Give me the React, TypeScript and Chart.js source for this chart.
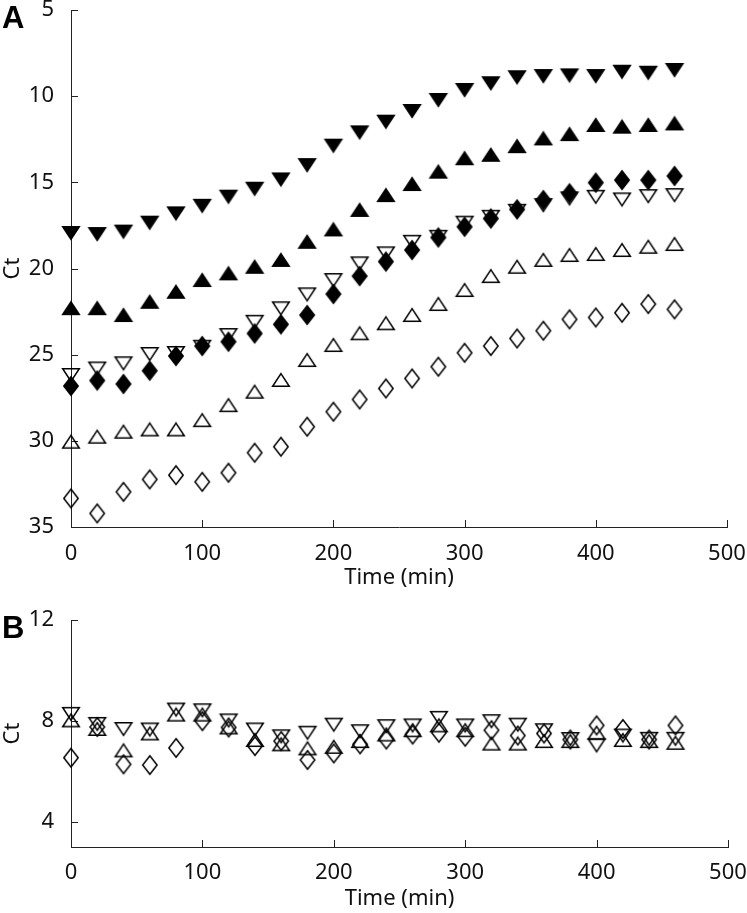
import React, { useEffect, useRef } from 'react';
import { Chart, registerables } from 'chart.js';

Chart.register(...registerables);

// ---------- data ----------
const TIME = [0, 20, 40, 60, 80, 100, 120, 140, 160, 180, 200, 220, 240, 260, 280, 300, 320, 340, 360, 380, 400, 420, 440, 460];
const X_TICKS = [0, 100, 200, 300, 400, 500];
const A_Y_TICKS = [5, 10, 15, 20, 25, 30, 35];
const B_Y_TICKS = [4, 8, 12];

// Panel A
const A_FILLED_DOWN = [17.94, 18.0, 17.86, 17.34, 16.8, 16.36, 15.83, 15.37, 14.83, 14.0, 12.87, 12.1, 11.48, 10.86, 10.22, 9.64, 9.25, 8.9, 8.83, 8.79, 8.83, 8.58, 8.64, 8.48];
const A_FILLED_UP = [22.3, 22.3, 22.7, 21.93, 21.35, 20.67, 20.28, 19.9, 19.5, 18.45, 17.73, 16.6, 15.74, 15.1, 14.38, 13.6, 13.4, 12.9, 12.45, 12.2, 11.67, 11.77, 11.67, 11.58];
const A_FILLED_DIAMOND = [26.82, 26.5, 26.7, 25.93, 25.08, 24.5, 24.25, 23.77, 23.24, 22.7, 21.48, 20.44, 19.6, 18.93, 18.2, 17.58, 17.1, 16.57, 16.03, 15.64, 15.02, 14.87, 14.87, 14.63];
const A_OPEN_DOWN = [26.18, 25.8, 25.5, 24.96, 24.9, 24.54, 23.86, 23.09, 22.31, 21.5, 20.67, 19.7, 19.12, 18.45, 18.16, 17.34, 17.0, 16.65, 16.32, 15.93, 15.84, 15.99, 15.8, 15.74];
const A_OPEN_UP = [30.05, 29.76, 29.47, 29.34, 29.34, 28.8, 27.93, 27.15, 26.47, 25.31, 24.44, 23.76, 23.18, 22.7, 22.06, 21.25, 20.44, 19.9, 19.5, 19.22, 19.16, 18.93, 18.74, 18.58];
const A_OPEN_DIAMOND = [33.34, 34.21, 32.96, 32.24, 31.99, 32.38, 31.85, 30.69, 30.34, 29.18, 28.31, 27.6, 26.96, 26.38, 25.7, 24.89, 24.5, 24.06, 23.61, 22.95, 22.84, 22.57, 22.06, 22.37];

// Panel B
const B_OPEN_DOWN = [8.28, 7.88, 7.68, 7.66, 8.45, 8.42, 8.02, 7.66, 7.39, 7.53, 7.85, 7.59, 7.79, 7.82, 8.12, 7.82, 7.99, 7.85, 7.63, 7.28, 7.03, 7.42, 7.29, 7.29];
const B_OPEN_UP = [8.02, 7.68, 6.83, 7.5, 8.25, 8.25, 7.74, 7.24, 7.07, 6.91, 6.97, 7.2, 7.46, 7.63, 7.82, 7.63, 7.1, 7.1, 7.2, 7.2, 7.53, 7.24, 7.2, 7.13];
const B_OPEN_DIAMOND = [6.54, 7.76, 6.28, 6.25, 6.93, 7.99, 7.74, 7.0, 7.2, 6.45, 6.71, 7.07, 7.26, 7.46, 7.53, 7.37, 7.63, 7.42, 7.5, 7.26, 7.82, 7.68, 7.26, 7.82];

// ---------- helpers ----------
const FONT_FAMILY = "'Noto Sans', 'Open Sans', sans-serif";
const FONT_SIZE = 22;
const TEXT_COLOR = '#111';
const AXIS_COLOR = '#222';

type Shape = 'up' | 'down' | 'diamond';

function makeMarker(shape: Shape, filled: boolean): HTMLCanvasElement {
  const c = document.createElement('canvas');
  c.width = 24;
  c.height = 24;
  const ctx = c.getContext('2d')!;
  ctx.translate(12, 12);
  ctx.beginPath();
  if (shape === 'up') {
    ctx.moveTo(0, -6.3);
    ctx.lineTo(8.3, 6.3);
    ctx.lineTo(-8.3, 6.3);
  } else if (shape === 'down') {
    ctx.moveTo(0, 6.3);
    ctx.lineTo(8.3, -6.3);
    ctx.lineTo(-8.3, -6.3);
  } else {
    ctx.moveTo(0, -9.2);
    ctx.lineTo(7.2, 0);
    ctx.lineTo(0, 9.2);
    ctx.lineTo(-7.2, 0);
  }
  ctx.closePath();
  ctx.lineJoin = 'miter';
  if (filled) {
    ctx.fillStyle = '#000';
    ctx.fill();
  }
  ctx.lineWidth = 1.5;
  ctx.strokeStyle = '#000';
  ctx.stroke();
  return c;
}

function series(values: number[], marker: HTMLCanvasElement) {
  return {
    data: TIME.map((t, i) => ({ x: t, y: values[i] })),
    pointStyle: marker,
    pointRadius: 9,
    pointHoverRadius: 9,
    showLine: false,
    clip: false as const,
  };
}

const innerTicks = {
  id: 'innerTicks',
  beforeDatasetsDraw(chart: any) {
    const { ctx, chartArea } = chart;
    const x = chart.scales.x;
    const y = chart.scales.y;
    ctx.save();
    ctx.strokeStyle = AXIS_COLOR;
    ctx.lineWidth = 1;
    ctx.beginPath();
    for (const t of x.ticks) {
      const px = Math.round(x.getPixelForValue(t.value)) + 0.5;
      ctx.moveTo(px, chartArea.bottom);
      ctx.lineTo(px, chartArea.bottom - 7);
    }
    for (const t of y.ticks) {
      const py = Math.round(y.getPixelForValue(t.value)) + 0.5;
      ctx.moveTo(chartArea.left, py);
      ctx.lineTo(chartArea.left + 7, py);
    }
    ctx.stroke();
    ctx.restore();
  },
};

interface PanelCfg {
  yMin: number;
  yMax: number;
  yTicks: number[];
  reverse: boolean;
  padTop: number;
  padRight: number;
  xAxisHeight: number;
  xTickPad: number;
  xTitlePad: number;
}

function panelOptions(p: PanelCfg): any {
  const font = { family: FONT_FAMILY, size: FONT_SIZE };
  return {
    animation: false,
    responsive: false,
    events: [],
    layout: { padding: { top: p.padTop, right: p.padRight, left: 0, bottom: 0 } },
    plugins: { legend: { display: false }, tooltip: { enabled: false } },
    scales: {
      x: {
        type: 'linear',
        min: 0,
        max: 500,
        afterBuildTicks: (s: any) => {
          s.ticks = X_TICKS.map((v) => ({ value: v }));
        },
        afterFit: (s: any) => {
          s.height = p.xAxisHeight;
          s.paddingLeft = 0;
          s.paddingRight = 0;
        },
        grid: { display: false },
        border: { display: true, color: AXIS_COLOR, width: 1 },
        ticks: { font, color: TEXT_COLOR, padding: p.xTickPad, maxRotation: 0, autoSkip: false },
        title: {
          display: true,
          text: 'Time (min)',
          font,
          color: TEXT_COLOR,
          padding: { top: p.xTitlePad, bottom: p.xTitlePad },
        },
      },
      y: {
        type: 'linear',
        min: p.yMin,
        max: p.yMax,
        reverse: p.reverse,
        afterBuildTicks: (s: any) => {
          s.ticks = p.yTicks.map((v) => ({ value: v }));
        },
        afterFit: (s: any) => {
          s.width = 71;
          s.paddingTop = 0;
          s.paddingBottom = 0;
        },
        grid: { display: false },
        border: { display: true, color: AXIS_COLOR, width: 1 },
        ticks: { font, color: TEXT_COLOR, padding: 9, autoSkip: false },
        title: {
          display: true,
          text: 'Ct',
          font,
          color: TEXT_COLOR,
          padding: { top: 0, bottom: 0 },
        },
      },
    },
  };
}

export default function App() {
  const refA = useRef<HTMLCanvasElement | null>(null);
  const refB = useRef<HTMLCanvasElement | null>(null);

  useEffect(() => {
    const fDown = makeMarker('down', true);
    const fUp = makeMarker('up', true);
    const fDia = makeMarker('diamond', true);
    const oDown = makeMarker('down', false);
    const oUp = makeMarker('up', false);
    const oDia = makeMarker('diamond', false);

    const chartA = new Chart(refA.current!, {
      type: 'scatter',
      data: {
        datasets: [
          series(A_FILLED_DIAMOND, fDia),
          series(A_FILLED_DOWN, fDown),
          series(A_FILLED_UP, fUp),
          series(A_OPEN_DOWN, oDown),
          series(A_OPEN_UP, oUp),
          series(A_OPEN_DIAMOND, oDia),
        ] as any,
      },
      options: panelOptions({
        yMin: 5,
        yMax: 35,
        yTicks: A_Y_TICKS,
        reverse: true,
        padTop: 10,
        padRight: 20,
        xAxisHeight: 73,
        xTickPad: 6,
        xTitlePad: 9,
      }),
      plugins: [innerTicks],
    });

    const chartB = new Chart(refB.current!, {
      type: 'scatter',
      data: {
        datasets: [
          series(B_OPEN_DIAMOND, oDia),
          series(B_OPEN_UP, oUp),
          series(B_OPEN_DOWN, oDown),
        ] as any,
      },
      options: panelOptions({
        yMin: 3,
        yMax: 12,
        yTicks: B_Y_TICKS,
        reverse: false,
        padTop: 20,
        padRight: 19,
        xAxisHeight: 66,
        xTickPad: 5,
        xTitlePad: 1,
      }),
      plugins: [innerTicks],
    });

    return () => {
      chartA.destroy();
      chartB.destroy();
    };
  }, []);

  const letterStyle: React.CSSProperties = {
    position: 'absolute',
    left: 2,
    fontFamily: "'Liberation Sans', Arial, sans-serif",
    fontWeight: 'bold',
    fontSize: 31,
    lineHeight: '31px',
    color: '#000',
  };

  return (
    <div style={{ position: 'absolute', left: 0, top: 0, width: 747, height: 913, background: '#fff' }}>
      <canvas ref={refA} width={747} height={600} style={{ position: 'absolute', left: 0, top: 0, display: 'block' }} />
      <canvas ref={refB} width={747} height={313} style={{ position: 'absolute', left: 0, top: 600, display: 'block' }} />
      <div style={{ ...letterStyle, top: 2 }}>A</div>
      <div style={{ ...letterStyle, top: 612 }}>B</div>
    </div>
  );
}
